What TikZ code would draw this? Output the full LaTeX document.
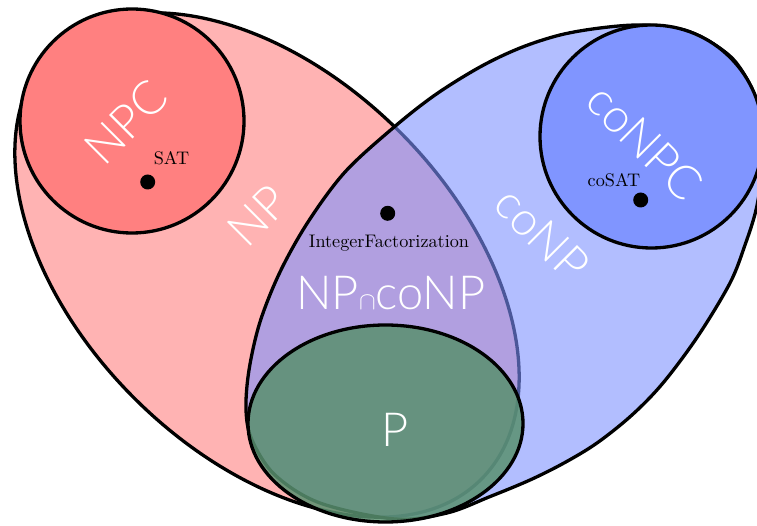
\documentclass[tikz,border=0pt]{standalone}
\usepackage{fontspec}
\IfFontExistsTF{Lato Light}
  {\newfontfamily\setfont{Lato Light}}
  {\newfontfamily\setfont{Lato}}
\IfFontExistsTF{lmroman10-regular.otf}
  {\newfontfamily\memberfont{lmroman10-regular.otf}}
  {\newcommand\memberfont{\rmfamily}}
\definecolor{npfill}{RGB}{255,179,179}
\definecolor{npcfill}{RGB}{255,128,128}
\definecolor{conpfill}{RGB}{126,146,255}
\definecolor{conpcfill}{RGB}{128,149,255}
\definecolor{pfill}{RGB}{89,144,111}
\begin{document}
\begin{tikzpicture}[x=1pt, y=1pt, line width=3.3pt,
  setlabel/.style={text=white, font=\setfont\fontsize{47}{50}\selectfont, inner sep=0pt},
  member/.style={font=\memberfont\fontsize{18.2}{20}\selectfont, inner sep=0pt, anchor=base},
  dotmark/.style={circle, fill=black, minimum size=15pt, inner sep=0pt}]
\useasboundingbox (0,0) rectangle (757,525);

% NP: tilted ellipse running from upper left to lower right
\draw[fill=npfill, rotate around={-45:(267,260)}]
  (267,260) ellipse [x radius=303pt, y radius=188pt];
% NP-complete problems
\draw[fill=npcfill] (132,404) circle [radius=112pt];

% coNP: translucent so the NP outline shows through it;
% its upper right end runs along the coNPC circle
\draw[fill=conpfill, fill opacity=0.6]
  plot[smooth cycle, tension=0.55] coordinates {
    (393,397) (435,430) (480,458) (520,477) (560,490) (600,497)
    (640,500) (680,496) (707,485) (732,467) (748,444) (759,417)
    (763,388) (762,353) (756,315) (745,280) (730,242) (698,189)
    (663,142) (632,110) (597,82) (564,62) (530,45) (489,28)
    (447,12) (395,6) (320,22) (275,50) (252,85) (246,115)
    (249,155) (260,203) (280,253) (308,303) (345,353)};
% coNP-complete problems
\draw[fill=conpcfill] (651.5,388.5) circle [radius=111.5pt];

% P inside the intersection
\draw[fill=pfill, fill opacity=0.85]
  (385.5,101.5) ellipse [x radius=137.5pt, y radius=98.5pt];

% class names
\node[setlabel, rotate=45]  (npclabel)   at (126,403) {NPC};
\node[setlabel, rotate=45]  (nplabel)    at (258,309) {NP};
\node[setlabel, rotate=-45] (conplabel)  at (542,291) {coNP};
\node[setlabel, rotate=-45] (conpclabel) at (645,383) {coNPC};
\node[setlabel] (caplabel) at (391,231.5) {NP{\fontsize{40}{42}\selectfont$\cap$}coNP};
\node[setlabel] (plabel) at (395,95) {P};

% sample problems
\node[dotmark] (sat) at (147.7,343) {};
\node[member] (satlabel) at (171.5,360) {SAT};
\node[dotmark] (cosat) at (640.7,325) {};
\node[member] (cosatlabel) at (614,338) {coSAT};
\node[dotmark] (intfact) at (387.7,311.7) {};
\node[member] (intfactlabel) at (389,277) {IntegerFactorization};
\end{tikzpicture}
\end{document}
